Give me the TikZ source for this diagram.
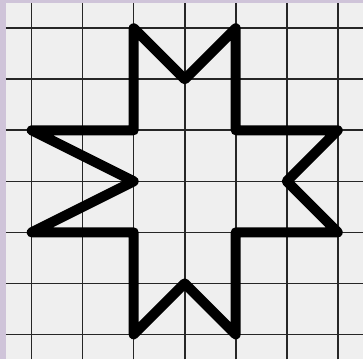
\documentclass[tikz,border=0pt]{standalone}
\usepackage{tikz}
\usepackage{xcolor}
\definecolor{bgpurple}{HTML}{CFC4D9}
\definecolor{paper}{HTML}{EFEFEF}

\begin{document}
\begin{tikzpicture}
        \def\xl{-0.620}
        \def\xr{6.495}
        \def\yb{-0.489}
        \def\yt{6.554}
        \def\gx{-0.503}
        \def\gy{6.495}

        %------------------
        % background
        %------------------
        \fill[bgpurple] (\xl,\yb) rectangle (\xr,\yt);
        \fill[paper] (\gx,\yb) rectangle (\xr,\gy);
        \useasboundingbox (\xl,\yb) rectangle (\xr,\yt);

        %------------------
        % grid
        %------------------
        \foreach \i in {0,...,6} {
          \draw[line width=0.9pt,black!85] (\i,\yb)--(\i,\gy);
          \draw[line width=0.9pt,black!85] (\gx,\i)--(\xr,\i);
        }

        %------------------
        % star
        %------------------
        \draw[line width=5.6pt,line join=round]
          (2,6)--(3,5)--(4,6)--(4,4)--(6,4)--(5,3)--(6,2)--(4,2)
          --(4,0)--(3,1)--(2,0)--(2,2)--(0,2)--(2,3)--(0,4)--(2,4)--cycle;
      \end{tikzpicture}
\end{document}
